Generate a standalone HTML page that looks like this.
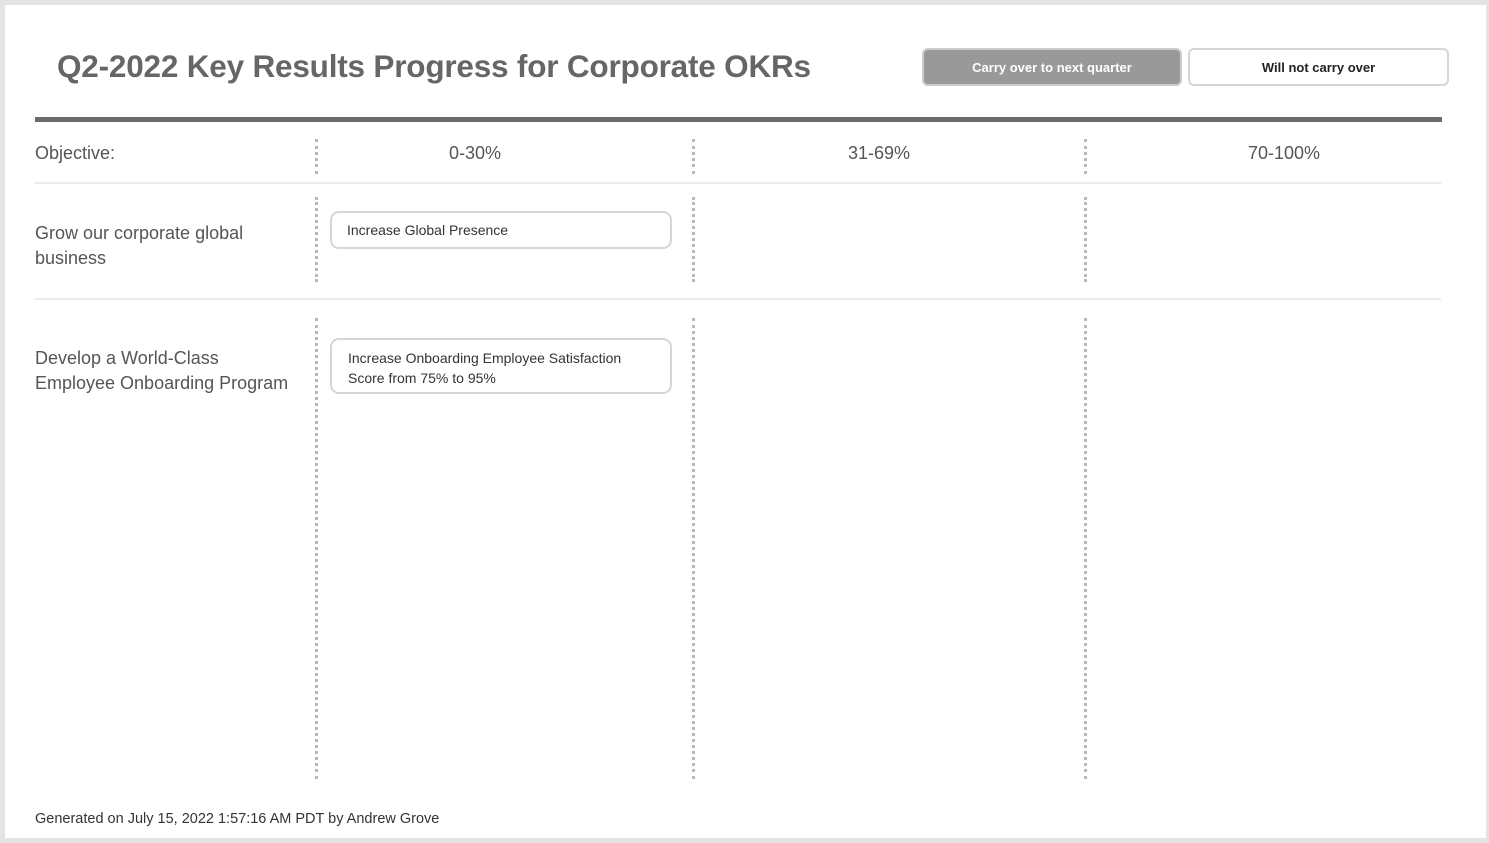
<!DOCTYPE html>
<html><head><style>
body{margin:0;width:1489px;height:843px;background:#e4e4e4;position:relative;font-family:"Liberation Sans",sans-serif;overflow:hidden}
.p{position:absolute;left:5px;top:5px;width:1481px;height:833px;background:#fff}
.a{position:absolute;white-space:nowrap}
.v{position:absolute;width:0;border-left:3px dotted #b8b8b8}
.h{position:absolute;left:35px;width:1406px;height:2px;background:#ececec}
.card{position:absolute;left:330px;width:342px;border:2px solid #d6d6d6;border-radius:9px;font-size:14px;color:#333;box-sizing:border-box}
.btn{position:absolute;top:48px;height:38px;border-radius:6px;box-sizing:border-box;font-size:13px;font-weight:bold;text-align:center;line-height:36px}
</style></head><body>
<div class="p"></div>
<div class="a" style="left:57px;top:48px;font-size:31.5px;font-weight:bold;color:#666;letter-spacing:-0.2px">Q2-2022 Key Results Progress for Corporate OKRs</div>
<div class="btn" style="left:922px;width:260px;background:#999;border:2px solid #ccc;color:#fff">Carry over to next quarter</div>
<div class="btn" style="left:1188px;width:261px;background:#fff;border:2px solid #d6d6d6;color:#222">Will not carry over</div>
<div class="a" style="left:35px;top:117px;width:1407px;height:5px;background:#6b6b6b"></div>
<div class="a" style="left:35px;top:143px;font-size:18px;color:#555">Objective:</div>
<div class="a" style="left:449px;top:143px;font-size:18px;color:#555">0-30%</div>
<div class="a" style="left:848px;top:143px;font-size:18px;color:#555">31-69%</div>
<div class="a" style="left:1248px;top:143px;font-size:18px;color:#555">70-100%</div>
<div class="h" style="top:182px"></div>
<div class="h" style="top:298px"></div>
<div class="v" style="left:315px;top:139px;height:35px"></div>
<div class="v" style="left:692px;top:139px;height:35px"></div>
<div class="v" style="left:1084px;top:139px;height:35px"></div>
<div class="v" style="left:315px;top:197px;height:85px"></div>
<div class="v" style="left:692px;top:197px;height:85px"></div>
<div class="v" style="left:1084px;top:197px;height:85px"></div>
<div class="v" style="left:315px;top:318px;height:461px"></div>
<div class="v" style="left:692px;top:318px;height:461px"></div>
<div class="v" style="left:1084px;top:318px;height:461px"></div>
<div class="a" style="left:35px;top:221px;font-size:18px;color:#555;line-height:25px;white-space:normal;width:265px">Grow our corporate global business</div>
<div class="a" style="left:35px;top:346px;font-size:18px;color:#555;line-height:25px;white-space:normal;width:265px">Develop a World-Class Employee Onboarding Program</div>
<div class="card" style="top:211px;height:38px;padding:9px 15px">Increase Global Presence</div>
<div class="card" style="top:338px;height:56px;padding:8px 16px;line-height:20px">Increase Onboarding Employee Satisfaction Score from 75% to 95%</div>
<div class="a" style="left:35px;top:811px;font-size:14.5px;color:#333">Generated on July 15, 2022 1:57:16 AM PDT by Andrew Grove</div>
</body></html>
